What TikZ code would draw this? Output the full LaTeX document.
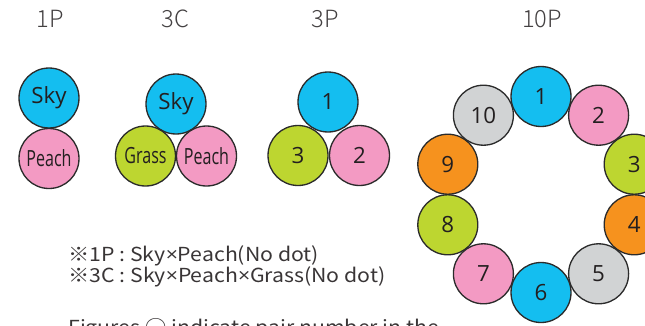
\documentclass[tikz,border=0pt]{standalone}
\usepackage{fontspec}
\setmainfont{Open Sans}
\newfontfamily\labelfont{Open Sans}
\newfontfamily\narrowfont{Open Sans}[FakeStretch=0.72]
\newfontfamily\notefont{Noto Sans CJK JP}[FakeStretch=1.1]
\newfontfamily\crossfont{Open Sans}[FakeStretch=1.1]
\IfFontExistsTF{Noto Sans CJK JP Light}
  {\newfontfamily\titlefont{Noto Sans CJK JP Light}}
  {\newfontfamily\titlefont{Noto Sans CJK JP}}
\newcommand{\cross}{{\crossfont ×}}

\definecolor{sky}{HTML}{14BEF0}
\definecolor{peach}{HTML}{F39AC3}
\definecolor{grass}{HTML}{BDD630}
\definecolor{orange}{HTML}{F6921E}
\definecolor{silver}{HTML}{D1D3D4}
\definecolor{rim}{HTML}{2B2B2B}
\definecolor{ink}{HTML}{231F20}

\tikzset{
  ball/.style={circle, draw=rim, line width=0.75pt, minimum size=1.2cm, inner sep=0pt,
    text=ink, font=\labelfont\fontsize{12.7}{14}\selectfont},
  thin/.style={font=\narrowfont\fontsize{12.7}{14}\selectfont},
  heading/.style={anchor=base, inner sep=0pt, text=ink!85, font=\titlefont\fontsize{13.5}{15}\selectfont},
  note/.style={anchor=base west, inner sep=0pt, text=ink!90, font=\notefont\fontsize{11}{13}\selectfont}
}

\begin{document}
\begin{tikzpicture}[x=0.02cm, y=-0.02cm]
\useasboundingbox (0,0) rectangle (645,325);
\clip (0,0) rectangle (645,325);

% headings
\node[heading] (h1p) at (50,27) {1P};
\node[heading] (h3c) at (175.5,27) {3C};
\node[heading] (h3p) at (325,27) {3P};
\node[heading] (h10p) at (542,27) {10P};

% 1P
\node[ball, fill=sky] (sky1) at (49,98) {Sky};
\node[ball, fill=peach, thin] (peach1) at (49,158.5) {Peach};

% 3C
\node[ball, fill=sky] (sky3) at (176,104) {Sky};
\node[ball, fill=grass, thin] (grass3) at (145.5,156) {Grass};
\node[ball, fill=peach, thin] (peach3) at (206.5,156) {Peach};

% 3P
\node[ball, fill=sky] (one3) at (328,102) {1};
\node[ball, fill=grass] (three3) at (298,155.5) {3};
\node[ball, fill=peach] (two3) at (359.5,155.5) {2};

% 10P, ring clockwise from the top
\coordinate (ring) at (541,194.5);
\foreach \n/\col [count=\i from 0] in {1/sky,2/peach,3/grass,4/orange,5/silver,
                                      6/sky,7/peach,8/grass,9/orange,10/silver}
  \node[ball, fill=\col] (ten\n) at ([shift={(-90+36*\i:98)}]ring) {\n};

% notes
\node[note] (note1) at (68,261) {※1P : Sky\cross Peach(No dot)};
\node[note] (note2) at (68,282) {※3C : Sky\cross Peach\cross Grass(No dot)};
\node[note] (note3) at (68,334) {Figures ○ indicate pair number in the};
\end{tikzpicture}
\end{document}
